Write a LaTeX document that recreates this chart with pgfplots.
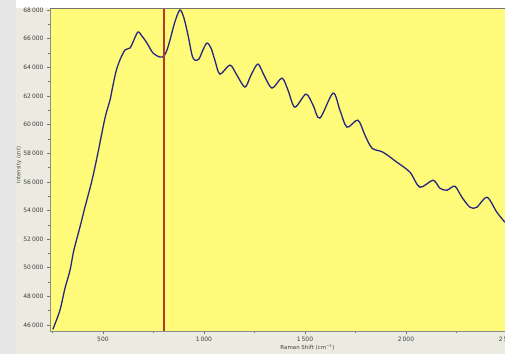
\documentclass[border=0pt]{standalone}
\usepackage{fontspec}
\setmainfont{DejaVu Sans}
\usepackage{pgfplots}
\pgfplotsset{compat=1.18}
\definecolor{bgyellow}{HTML}{FFFA7A}
\definecolor{panel}{HTML}{ECEBE1}
\definecolor{strip}{HTML}{E6E6E6}
\definecolor{curvecol}{HTML}{25287F}
\definecolor{markerred}{HTML}{B23A2A}
\begin{document}
\begin{tikzpicture}[x=1pt,y=1pt]
\path[use as bounding box, fill=white] (0,0) rectangle (505,354);
\fill[strip] (0,0) rectangle (16,354);
\fill[panel] (16,0) rectangle (505,346);
\node[rotate=90, font=\fontsize{5.2}{6}\selectfont, text=black!75] at (19,189) {Intensity (cnt)};
\begin{axis}[
  at={(50pt,23pt)}, anchor=south west,
  width=461pt, height=323pt, scale only axis,
  xmin=238, xmax=2520, ymin=45580, ymax=68140,
  scaled ticks=false,
  axis background/.style={fill=bgyellow},
  axis line style={black!45, line width=0.6pt},
  xtick={500,1000,1500,2000,2500},
  minor xtick={250,750,1250,1750,2250},
  ytick={46000,48000,...,68000},
  minor ytick={47000,49000,...,67000},
  tick align=outside,
  major tick length=3pt, minor tick length=2pt,
  tick style={black!55, line width=0.5pt},
  xtick pos=bottom, ytick pos=left,
  /pgf/number format/.cd, 1000 sep={\,}, assume math mode=true,
  /pgfplots/.cd,
  ticklabel style={font=\fontsize{6}{7}\selectfont, text=black!75},
  xlabel={Raman Shift (cm\textsuperscript{−1})},
  xlabel style={font=\fontsize{5.5}{6}\selectfont, text=black!75, at={(axis description cs:0.5586,0)}, anchor=north, yshift=-10pt},
]
\addplot[draw=curvecol, line width=1.3pt, smooth, tension=0.5, mark=none] coordinates {
(252,45692) (287,47021) (312,48560) (337,49818) (356,51217) (386,52825)
(411,54224) (446,56112) (475,58000) (510,60448) (535,61706) (545,62406)
(564,63664) (584,64504) (609,65203) (634,65343) (649,65762) (673,66462)
(693,66182) (718,65692) (748,64993) (782,64713) (802,64783) (817,65203)
(832,65902) (856,67161) (881,68000) (901,67441) (921,66252) (941,64853)
(955,64504) (975,64573) (995,65203) (1015,65692) (1035,65343) (1054,64504)
(1079,63524) (1129,64154) (1163,63455) (1203,62615) (1233,63455) (1267,64224)
(1297,63455) (1337,62545) (1386,63245) (1416,62406) (1450,61217) (1505,62126)
(1540,61357) (1574,60448) (1639,62196) (1673,61007) (1708,59818) (1762,60308)
(1797,59259) (1832,58350) (1886,58070) (1955,57371) (2020,56671) (2069,55622)
(2134,56112) (2168,55553) (2203,55413) (2242,55692) (2277,54923) (2317,54224)
(2351,54224) (2401,54923) (2450,53874) (2490,53175)
};
\addplot[draw=markerred, line width=2pt, mark=none] table {
x y
800 45600
800 68120
};
\draw[black!55, line width=0.8pt] (rel axis cs:0,1) -- (rel axis cs:1,1);
\end{axis}
\end{tikzpicture}
\end{document}
